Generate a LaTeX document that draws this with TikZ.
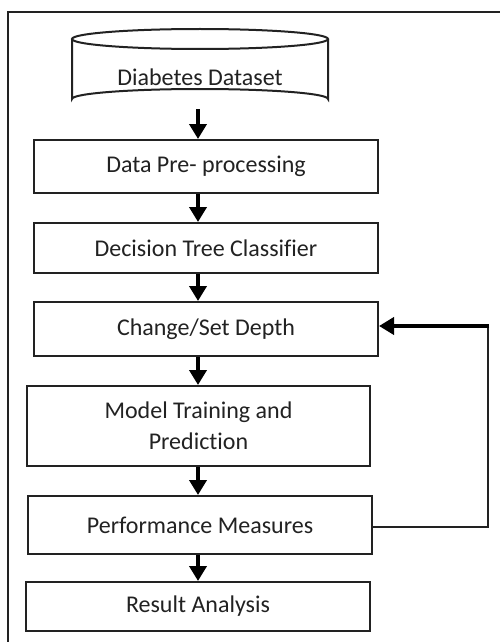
\documentclass[tikz,border=0pt]{standalone}
\usepackage{fontspec}
\setmainfont{Carlito}[Ligatures=CommonOff]
\usetikzlibrary{arrows.meta}
\definecolor{ink}{HTML}{222222}
\tikzset{
  stepbox/.style={draw=ink, line width=2pt, fill=white, rectangle, align=center,
    text=ink, font=\fontsize{24}{31}\selectfont, inner sep=0pt},
  flow/.style={line width=4pt, black, -{Triangle[length=15pt,width=17pt]}},
  backline/.style={line width=2pt, ink},
}
\begin{document}
\begin{tikzpicture}[x=1pt,y=-1pt]
  \useasboundingbox (0,0) rectangle (500,642);
  \clip (0,0) rectangle (500,642);
  \fill[white] (0,0) rectangle (500,642);
  % outer frame
  \draw[ink, line width=2pt] (8,12) rectangle (530,670);

  % dataset cylinder
  \draw[ink, line width=2pt, fill=white]
    (72,39) -- (72,99) arc[start angle=180, end angle=360, x radius=128, y radius=10]
    -- (328,39);
  \draw[ink, line width=2pt, fill=white] (200,39) ellipse[x radius=128, y radius=10];
  \node[text=ink, font=\fontsize{24}{31}\selectfont] (ds) at (200,77) {Diabetes Dataset};
  \coordinate (dsbot) at (198,109);
  \coordinate (spine) at (198,0);

  % process boxes
  \node[stepbox, minimum width=344pt, minimum height=53pt] (b1) at (206,166.5) {Data Pre- processing};
  \node[stepbox, minimum width=344pt, minimum height=50pt] (b2) at (206,248) {Decision Tree Classifier};
  \node[stepbox, minimum width=344pt, minimum height=54pt] (b3) at (206,329) {Change/Set Depth};
  \node[stepbox, minimum width=343pt, minimum height=80pt] (b4) at (198.5,426) {Model Training and\\Prediction};
  \node[stepbox, minimum width=344pt, minimum height=58pt] (b5) at (200,525) {Performance Measures};
  \node[stepbox, minimum width=344pt, minimum height=49pt] (b6) at (198,606.5) {Result Analysis};

  % main flow
  \draw[flow] (dsbot) -- (b1.north -| spine);
  \draw[flow] (b1.south -| spine) -- (b2.north -| spine);
  \draw[flow] (b2.south -| spine) -- (b3.north -| spine);
  \draw[flow] (b3.south -| spine) -- (b4.north -| spine);
  \draw[flow] (b4.south -| spine) -- (b5.north -| spine);
  \draw[flow] (b5.south -| spine) -- (b6.north -| spine);

  % feedback loop to depth selection
  \coordinate (fbtop) at (488,326);
  \coordinate (fbbot) at (488,527);
  \draw[backline] (b5.east |- fbbot) -- (fbbot) -- (fbtop);
  \draw[flow] ([xshift=1pt]fbtop) -- (fbtop -| b3.east);
\end{tikzpicture}
\end{document}
